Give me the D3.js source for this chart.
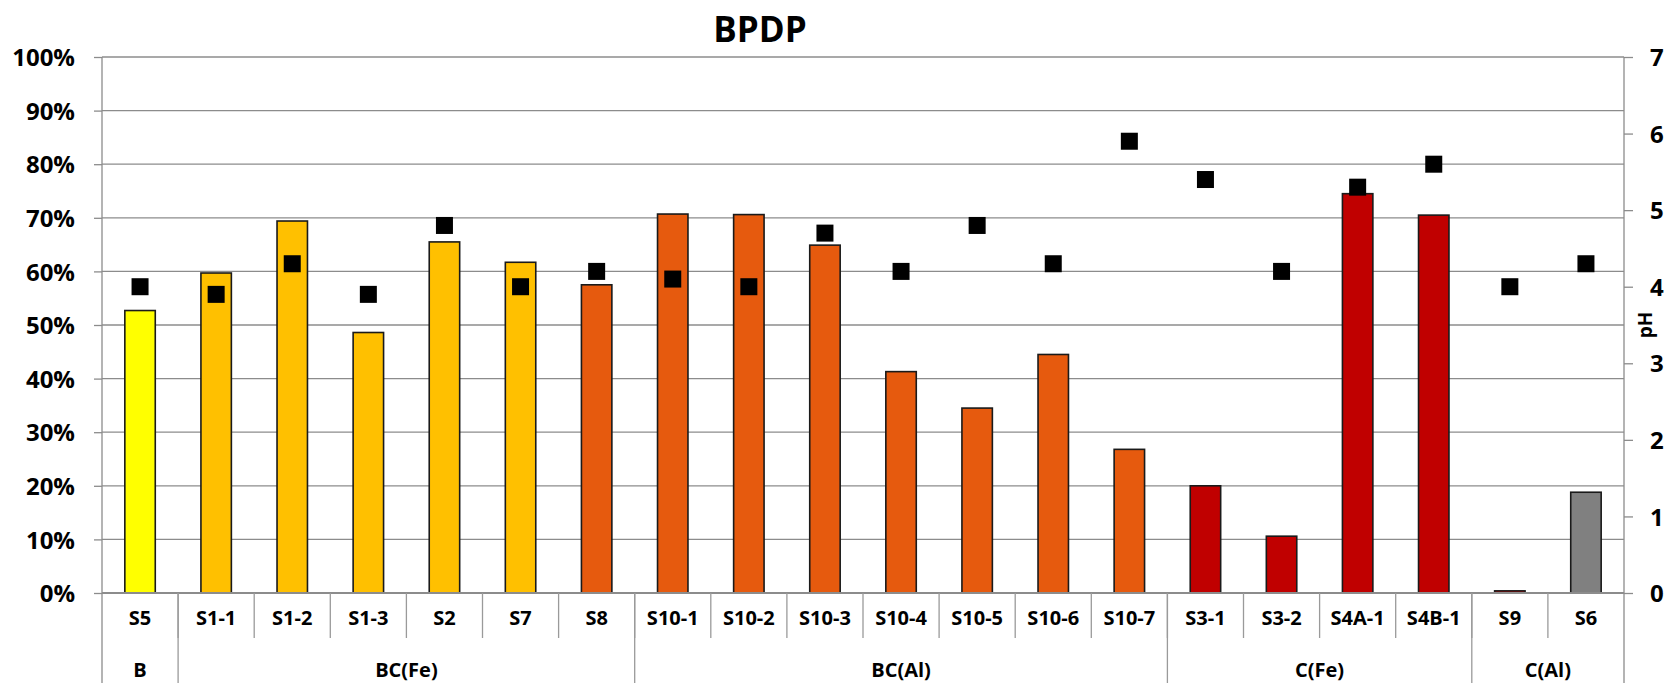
<!DOCTYPE html>
<html>
<head>
<meta charset="utf-8">
<script src="https://cdn.jsdelivr.net/npm/d3@7"></script>
<style>
  body { margin: 0; background: #fff; }
  text { font-family: "Open Sans", sans-serif; font-weight: bold; fill: #000; }
</style>
</head>
<body>
<div id="chart"></div>
<script>
// data
const categories = ["S5", "S1-1", "S1-2", "S1-3", "S2", "S7", "S8",
  "S10-1", "S10-2", "S10-3", "S10-4", "S10-5", "S10-6", "S10-7",
  "S3-1", "S3-2", "S4A-1", "S4B-1", "S9", "S6"];
const bpdp = [0.527, 0.597, 0.694, 0.486, 0.655, 0.617, 0.575,
  0.707, 0.706, 0.649, 0.413, 0.345, 0.445, 0.268,
  0.200, 0.106, 0.745, 0.705, 0.004, 0.188];
const ph = [4.0, 3.9, 4.3, 3.9, 4.8, 4.0, 4.2,
  4.1, 4.0, 4.7, 4.2, 4.8, 4.3, 5.9,
  5.4, 4.2, 5.3, 5.6, 4.0, 4.3];
const barClass = ["B", "BC(Fe)", "BC(Fe)", "BC(Fe)", "BC(Fe)", "BC(Fe)", "BC(Al)",
  "BC(Al)", "BC(Al)", "BC(Al)", "BC(Al)", "BC(Al)", "BC(Al)", "BC(Al)",
  "C(Fe)", "C(Fe)", "C(Fe)", "C(Fe)", "C(Fe)", "C(Al)"];
const groupNames = ["B", "BC(Fe)", "BC(Al)", "C(Fe)", "C(Al)"];
const groupSizes = [1, 6, 7, 4, 2];
const pctTicks = [0, 0.1, 0.2, 0.3, 0.4, 0.5, 0.6, 0.7, 0.8, 0.9, 1];
const phTicks = [0, 1, 2, 3, 4, 5, 6, 7];

const width = 1668;
const height = 683;
const margin = { left: 102, right: 44, top: 57, bottom: 90 };
const plotRight = width - margin.right;
const plotBottom = height - margin.bottom;

const svg = d3.select("#chart")
    .append("svg")
    .attr("width", width)
    .attr("height", height);

const x = d3.scaleBand()
    .domain(categories)
    .range([margin.left, plotRight])
    .padding(0);

const y = d3.scaleLinear().domain([0, 1]).range([plotBottom, margin.top]);
const y2 = d3.scaleLinear().domain([0, 7]).range([plotBottom, margin.top]);

const color = d3.scaleOrdinal()
    .domain(groupNames)
    .range(["#ffff00", "#ffc000", "#e65a0e", "#c00000", "#808080"]);

// gridlines
svg.append("g")
    .selectAll("line")
    .data(pctTicks.slice(1))
    .enter()
    .append("line")
    .attr("x1", margin.left)
    .attr("x2", plotRight)
    .attr("y1", d => y(d))
    .attr("y2", d => y(d))
    .style("stroke", "#8c8c8c")
    .style("stroke-width", 1.3);

// left axis
const leftAxis = svg.append("g")
    .attr("transform", `translate(${margin.left},0)`)
    .call(d3.axisLeft(y).tickValues(pctTicks).tickFormat(d3.format(".0%")).tickSize(8).tickPadding(19));
leftAxis.select(".domain").remove();
leftAxis.selectAll("line").style("stroke", "#8c8c8c").style("stroke-width", 1.3);
leftAxis.selectAll("text").style("font-size", "24px").attr("dy", "0.36em");

// right axis
const rightAxis = svg.append("g")
    .attr("transform", `translate(${plotRight},0)`)
    .call(d3.axisRight(y2).tickValues(phTicks).tickFormat(d3.format("d")).tickSize(9).tickPadding(17));
rightAxis.select(".domain").remove();
rightAxis.selectAll("line").style("stroke", "#8c8c8c").style("stroke-width", 1.3);
rightAxis.selectAll("text").style("font-size", "24px").attr("dy", "0.36em");

// vertical axis lines
svg.append("line")
    .attr("x1", margin.left).attr("x2", margin.left)
    .attr("y1", margin.top).attr("y2", height)
    .style("stroke", "#8c8c8c").style("stroke-width", 1.3);
svg.append("line")
    .attr("x1", plotRight).attr("x2", plotRight)
    .attr("y1", margin.top).attr("y2", height)
    .style("stroke", "#8c8c8c").style("stroke-width", 1.3);

// bars
const barW = x.bandwidth() * 0.4;
svg.selectAll(".bar")
    .data(categories)
    .enter()
    .append("rect")
    .attr("class", "bar")
    .attr("x", d => x(d) + (x.bandwidth() - barW) / 2)
    .attr("y", (d, i) => y(bpdp[i]))
    .attr("width", barW)
    .attr("height", (d, i) => y(0) - y(bpdp[i]))
    .style("fill", (d, i) => color(barClass[i]))
    .style("stroke", "#1a1a1a")
    .style("stroke-width", 1.6);

// x axis baseline
svg.append("line")
    .attr("x1", margin.left).attr("x2", plotRight)
    .attr("y1", plotBottom).attr("y2", plotBottom)
    .style("stroke", "#8c8c8c").style("stroke-width", 2);

// pH markers
const mk = 17;
svg.selectAll(".ph")
    .data(categories)
    .enter()
    .append("rect")
    .attr("class", "ph")
    .attr("x", d => x(d) + x.bandwidth() / 2 - mk / 2)
    .attr("y", (d, i) => y2(ph[i]) - mk / 2)
    .attr("width", mk)
    .attr("height", mk)
    .style("fill", "#000");

// category separators and labels
svg.selectAll(".sep")
    .data(categories.slice(1))
    .enter()
    .append("line")
    .attr("x1", d => x(d)).attr("x2", d => x(d))
    .attr("y1", plotBottom).attr("y2", plotBottom + 45)
    .style("stroke", "#9a9a9a").style("stroke-width", 1.3);

svg.selectAll(".cat")
    .data(categories)
    .enter()
    .append("text")
    .attr("x", d => x(d) + x.bandwidth() / 2)
    .attr("y", plotBottom + 32)
    .attr("text-anchor", "middle")
    .style("font-size", "20px")
    .text(d => d);

// group separators and labels
let start = 0;
groupNames.forEach(function (g, gi) {
    const first = categories[start];
    const last = categories[start + groupSizes[gi] - 1];
    const x0 = x(first);
    const x1 = x(last) + x.bandwidth();
    if (gi > 0) {
        svg.append("line")
            .attr("x1", x0).attr("x2", x0)
            .attr("y1", plotBottom).attr("y2", height)
            .style("stroke", "#9a9a9a").style("stroke-width", 1.3);
    }
    svg.append("text")
        .attr("x", (x0 + x1) / 2)
        .attr("y", plotBottom + 84)
        .attr("text-anchor", "middle")
        .style("font-size", "20px")
        .text(g);
    start += groupSizes[gi];
});

// title
svg.append("text")
    .attr("x", 760)
    .attr("y", 42)
    .attr("text-anchor", "middle")
    .style("font-size", "35px")
    .text("BPDP");

// pH axis title
svg.append("text")
    .attr("transform", `translate(1652, ${y2(3.5)}) rotate(-90)`)
    .attr("text-anchor", "middle")
    .style("font-size", "19px")
    .text("pH");
</script>
</body>
</html>
